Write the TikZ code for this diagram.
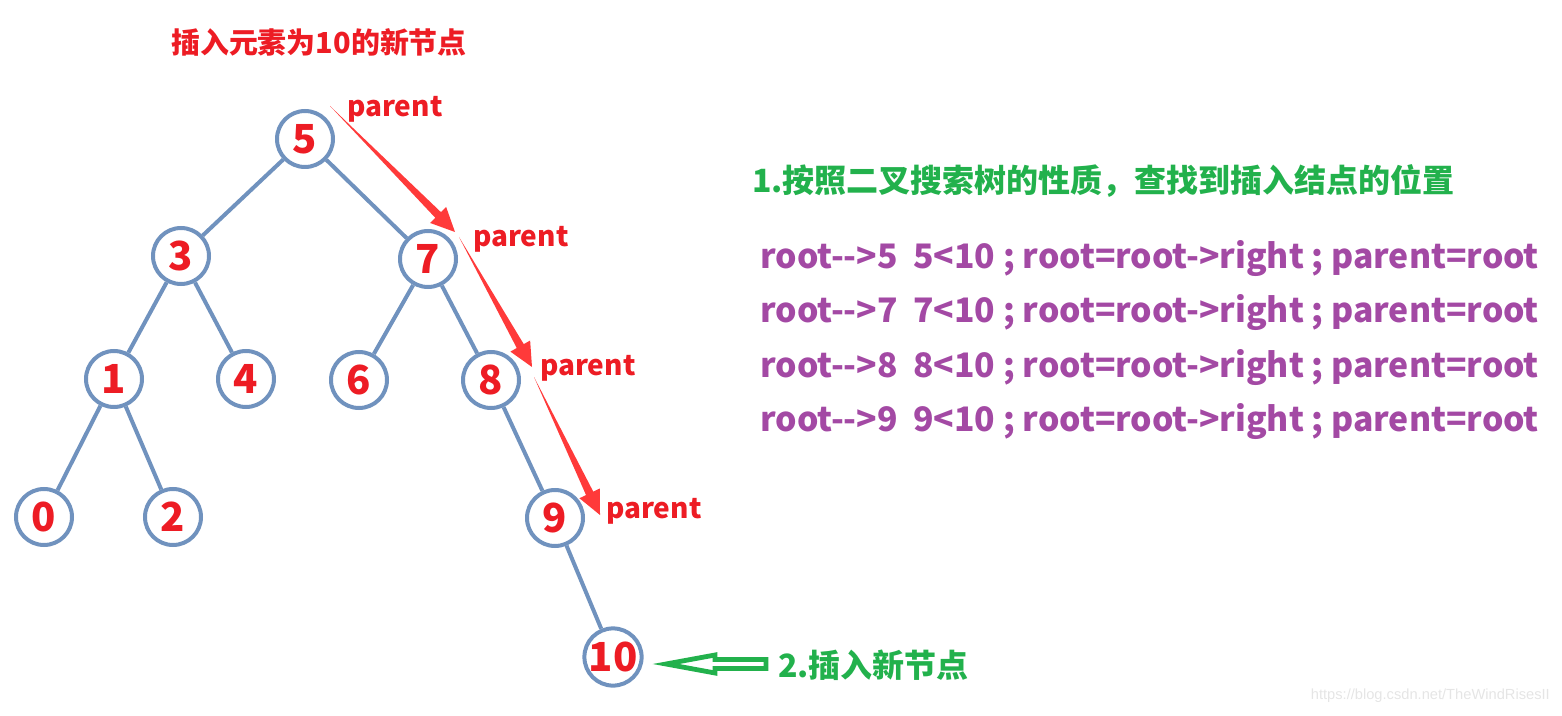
\documentclass[tikz,border=0pt]{standalone}
\usepackage{fontspec}
\setmainfont{Noto Sans CJK SC}
\newfontfamily\wmfont{Liberation Sans}
\usetikzlibrary{calc}
\definecolor{nodeblue}{RGB}{112,146,190}
\definecolor{digitred}{RGB}{237,28,36}
\definecolor{arrowred}{RGB}{255,58,58}
\definecolor{txtgreen}{RGB}{34,177,76}
\definecolor{txtpurple}{RGB}{163,73,164}
\tikzset{
  tnode/.style={circle,draw=nodeblue,line width=3pt,minimum size=42pt,inner sep=0pt,
    text=digitred,font=\fontsize{30}{30}\selectfont\bfseries},
  edge/.style={draw=nodeblue,line width=3pt},
  plabel/.style={anchor=base west,inner sep=0pt,text=digitred,font=\fontsize{21}{21}\selectfont\bfseries},
  gtext/.style={inner sep=0pt,text=txtgreen,font=\fontsize{24}{24}\selectfont\bfseries},
  ptext/.style={anchor=base west,inner sep=0pt,text=txtpurple,font=\fontsize{25.3}{25.3}\selectfont\bfseries},
  hollow/.style={draw=txtgreen,line width=3.6pt,line join=miter,fill=white}
}
\newcommand\taperarrow[2]{%
  \coordinate (tB) at ($(#2)!18pt!(#1)$);
  \fill[arrowred] (#1) -- ($(tB)!3pt!90:(#2)$) -- ($(tB)!8.5pt!90:(#2)$) -- (#2)
    -- ($(tB)!8.5pt!-90:(#2)$) -- ($(tB)!3pt!-90:(#2)$) -- cycle;
}
\begin{document}
\begin{tikzpicture}[x=0.75pt,y=-0.75pt]
\useasboundingbox (0,0) rectangle (1562,716);
% title
\node[inner sep=0pt,text=digitred,font=\fontsize{21.7}{21.7}\selectfont\bfseries] (title) at (319,42) {插入元素为10的新节点};
% tree nodes
\node[tnode] (n5) at (305,139) {5};
\node[tnode] (n3) at (181,256) {3};
\node[tnode] (n7) at (428,259) {7};
\node[tnode] (n1) at (114,379) {1};
\node[tnode] (n4) at (246,379) {4};
\node[tnode] (n6) at (359,380) {6};
\node[tnode] (n8) at (491,380) {8};
\node[tnode] (n0) at (44,517) {0};
\node[tnode] (n2) at (173,517) {2};
\node[tnode] (n9) at (555,518) {9};
\node[tnode] (n10) at (613,657) {10};
% edges
\draw[edge] (n5) -- (n3);
\draw[edge] (n5) -- (n7);
\draw[edge] (n3) -- (n1);
\draw[edge] (n3) -- (n4);
\draw[edge] (n7) -- (n6);
\draw[edge] (n7) -- (n8);
\draw[edge] (n1) -- (n0);
\draw[edge] (n1) -- (n2);
\draw[edge] (n8) -- (n9);
\draw[edge] (n9) -- (n10);
% parent labels
\node[plabel] (p1) at (347,117) {parent};
\node[plabel] (p2) at (473,247) {parent};
\node[plabel] (p3) at (540,375) {parent};
\node[plabel] (p4) at (606,518) {parent};
% red tapered arrows
\coordinate (a1s) at (330,106); \coordinate (a1t) at (455,232);
\coordinate (a2s) at (459,237); \coordinate (a2t) at (532,367);
\coordinate (a3s) at (534,377); \coordinate (a3t) at (600,515);
\taperarrow{a1s}{a1t}
\taperarrow{a2s}{a2t}
\taperarrow{a3s}{a3t}
% right texts
\node[gtext,anchor=west] (g1) at (752,181) {1.按照二叉搜索树的性质，查找到插入结点的位置};
\node[ptext] (l1) at (760,269) {root-{}->5\ \ 5<10 ; root=root-{}>right ; parent=root};
\node[ptext] (l2) at (760,323) {root-{}->7\ \ 7<10 ; root=root-{}>right ; parent=root};
\node[ptext] (l3) at (760,377) {root-{}->8\ \ 8<10 ; root=root-{}>right ; parent=root};
\node[ptext] (l4) at (760,431) {root-{}->9\ \ 9<10 ; root=root-{}>right ; parent=root};
% green hollow arrow and label
\node[gtext,anchor=west] (g2) at (778,665) {2.插入新节点};
\coordinate (hA) at (666,664);
\draw[hollow] (hA) -- (715,655) -- (715,659.5) -- (766,659.5) -- (766,668.5) -- (715,668.5) -- (715,673) -- cycle;
% watermark
\node[anchor=east,inner sep=0pt,text=black!10,font=\wmfont\fontsize{11}{11}\selectfont] (wm) at (1550,696) {https://blog.csdn.net/TheWindRisesII};
\end{tikzpicture}
\end{document}
